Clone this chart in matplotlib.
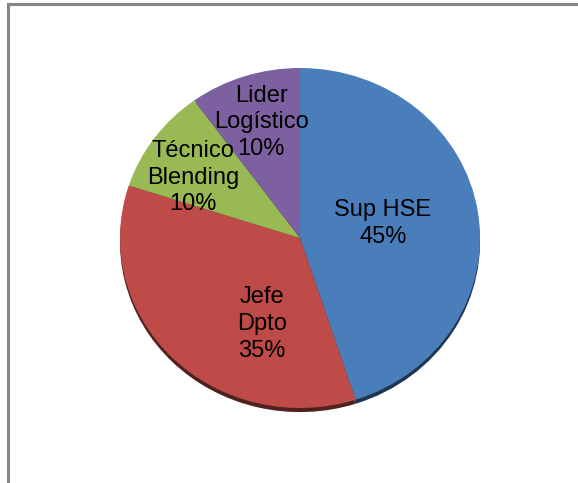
import matplotlib.pyplot as plt
from matplotlib.lines import Line2D
import matplotlib.colors as mcolors

# data
labels = ["Sup HSE", "Jefe\nDpto", "Técnico\nBlending", "Lider\nLogístico"]
values = [45, 35, 10, 10]
colors = ["#4a7ebb", "#be4b48", "#98b954", "#7d60a0"]

# label centres (axes units, pie radius = 1)
label_pos = [(0.46, 0.085), (-0.21, -0.505), (-0.595, 0.355), (-0.215, 0.68)]

plt.rcParams['font.family'] = ['Liberation Sans', 'DejaVu Sans']

fig = plt.figure(figsize=(5.78, 4.83), dpi=100)
fig.patch.set_facecolor('white')

# pie area in pixels: x 120..480, y 68..408
W, H = 578, 483
ax = fig.add_axes([120 / W, (H - 408) / H, 360 / W, 340 / H])

# dark rim below the pie (3d look)
dark = [tuple(c * 0.42 for c in mcolors.to_rgb(col)) for col in colors]
ax.pie(values, colors=dark, startangle=90, counterclock=False,
       center=(0, -0.024), wedgeprops=dict(linewidth=0))
ax.pie(values, colors=colors, startangle=90, counterclock=False,
       wedgeprops=dict(linewidth=0))

for lab, v, (x, y) in zip(labels, values, label_pos):
    ax.text(x, y, "%s\n%d%%" % (lab, v), ha='center', va='center',
            fontsize=17, linespacing=1.28, color='black')

ax.set_aspect('auto')
ax.set_xlim(-1, 1)
ax.set_ylim(-1, 1)
ax.axis('off')

# chart border (runs off the right and bottom of the image)
fig.add_artist(Line2D([8 / W, 1], [1 - 4 / H, 1 - 4 / H], color='#858585', lw=2.2,
                      transform=fig.transFigure))
fig.add_artist(Line2D([8 / W, 8 / W], [0, 1 - 4 / H], color='#858585', lw=2.2,
                      transform=fig.transFigure))

fig.savefig('out.png', dpi=100)
